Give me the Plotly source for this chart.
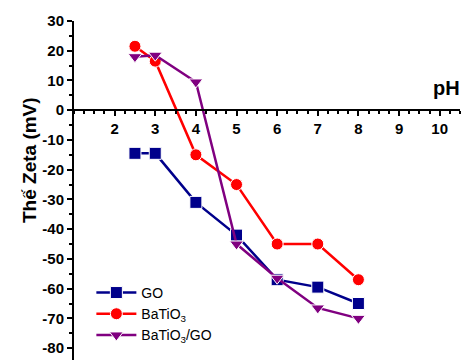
import plotly.graph_objects as go

ph = [2.5, 3, 4, 5, 6, 7, 8]
go_vals = [-14.5, -14.5, -31, -42, -57, -59.5, -65]
bto_vals = [21.5, 16.5, -15, -25, -45, -45, -57]
btogo_vals = [18, 18.5, 9.5, -45, -56.5, -66.5, -70]

names = ["GO", "BaTiO<sub>3</sub>", "BaTiO<sub>3</sub>/GO"]
colors = ["#00008B", "#FF0000", "#800080"]
symbols = ["square", "circle", "triangle-down"]
series = [go_vals, bto_vals, btogo_vals]

x_ticks = [2, 3, 4, 5, 6, 7, 8, 9, 10]
y_ticks = [30, 20, 10, 0, -10, -20, -30, -40, -50, -60, -70, -80]

YMIN, YMAX = -84, 30
W, H, L, R, T, B = 461, 360, 74, 1, 21, 0
pw, ph_ = W - L - R, H - T - B
FONT = "Liberation Sans, Arial, sans-serif"

fig = go.Figure()
for n, c, s, v in zip(names, colors, symbols, series):
    fig.add_trace(go.Scatter(
        x=ph, y=v, name=n, mode="lines+markers",
        line=dict(color=c, width=2.5),
        marker=dict(symbol=s, size=12, color=c, line=dict(color="white", width=1)),
    ))

fig.update_layout(
    width=W, height=H,
    margin=dict(l=L, r=R, t=T, b=B),
    plot_bgcolor="white", paper_bgcolor="white",
    font=dict(family=FONT, color="black"),
    showlegend=True,
    legend=dict(x=0.045, y=0.245, xanchor="left", yanchor="top",
                bgcolor="rgba(0,0,0,0)", font=dict(size=14),
                tracegroupgap=0, itemwidth=40),
    xaxis=dict(
        range=[1, 10.5], anchor="free", position=(0 - YMIN) / (YMAX - YMIN),
        showgrid=False, zeroline=False, showline=True, linecolor="black", linewidth=2,
        tickvals=x_ticks, ticktext=[str(t) for t in x_ticks],
        ticks="outside", ticklen=5, tickwidth=2, tickcolor="black",
        tickfont=dict(size=15, family=FONT, weight="bold"),
        minor=dict(dtick=0.25, tick0=1, ticks="outside", ticklen=3, tickwidth=1.5, tickcolor="black"),
    ),
    yaxis=dict(
        range=[YMIN, YMAX], showgrid=False, zeroline=False,
        showline=True, linecolor="black", linewidth=2,
        tickvals=y_ticks, ticktext=[str(t) for t in y_ticks],
        ticks="outside", ticklen=5, tickwidth=2, tickcolor="black",
        tickfont=dict(size=15, family=FONT, weight="bold"),
        minor=dict(dtick=5, tick0=0, ticks="outside", ticklen=3, tickwidth=1.5, tickcolor="black"),
    ),
    annotations=[
        dict(text="Thế Zeta (mV)", x=(29 - L) / pw, y=(H - B - 160) / ph_,
             xref="paper", yref="paper", showarrow=False, textangle=-90,
             xanchor="center", yanchor="middle",
             font=dict(size=19, weight="bold")),
        dict(text="pH", x=(446 - L) / pw, y=(H - B - 88) / ph_,
             xref="paper", yref="paper", showarrow=False,
             xanchor="center", yanchor="middle",
             font=dict(size=20, weight="bold")),
    ],
)
fig.write_html("out.html")
